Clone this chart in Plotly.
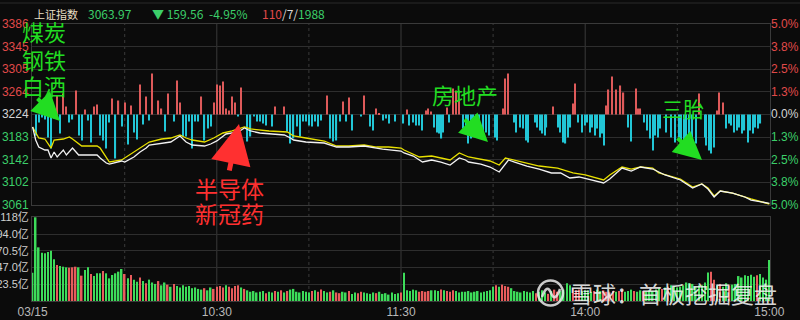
import plotly.graph_objects as go

# ---------------- data ----------------
prev_close = 3223.5
price_ticks = [3061, 3102, 3142, 3183, 3224, 3264, 3305, 3345, 3386]
pct_labels = ["5.0%", "3.8%", "2.5%", "1.3%", "0.0%", "1.3%", "2.5%", "3.8%", "5.0%"]
vol_ticks = [23.5, 47.0, 70.5, 94.0, 118]
vol_labels = ["23.5亿", "47.0亿", "70.5亿", "94.0亿", "118亿"]
time_ticks = [0, 60, 120, 180, 240]
time_labels = ["03/15", "10:30", "11:30", "14:00", "15:00"]
grid_solid = [60, 120, 180]
grid_dot = [30, 90, 150, 210]

white_min = [0, 1, 2, 4, 5, 6, 7, 8, 10, 11, 13, 15, 19, 21, 22, 24, 25, 29, 30, 33,
             35, 37, 38, 42, 45, 48, 50, 52, 56, 58, 60, 63, 67, 69, 71, 74, 77, 82, 84, 85,
             89, 95, 97, 99, 103, 108, 112, 114, 120, 121, 124, 127, 130, 133, 136, 139, 141, 142, 146, 149,
             152, 155, 157, 161, 165, 169, 172, 175, 178, 182, 186, 188, 192, 195, 198, 202, 204, 206, 211, 215,
             218, 220, 222, 224, 228, 232, 234, 237, 240]
white_price = [3201.1, 3177.7, 3165.1, 3159.8, 3159.8, 3145.4, 3156.2, 3147.2, 3159.8, 3150.8,
               3163.3, 3150.8, 3150.8, 3150.8, 3145.4, 3136.4, 3134.6, 3140.0, 3138.2, 3147.2,
               3156.2, 3163.3, 3168.7, 3172.3, 3174.1, 3184.9, 3174.1, 3168.7, 3166.9, 3170.5,
               3176.0, 3188.5, 3192.1, 3199.3, 3193.9, 3190.3, 3188.5, 3186.7, 3181.3, 3177.7,
               3174.1, 3172.3, 3168.7, 3165.1, 3165.1, 3166.9, 3163.3, 3161.5, 3157.9, 3154.4,
               3148.9, 3138.2, 3141.8, 3138.2, 3132.8, 3145.4, 3141.8, 3138.2, 3134.6, 3129.2,
               3120.3, 3141.8, 3138.2, 3131.0, 3125.6, 3118.5, 3118.5, 3109.5, 3111.3, 3105.9,
               3100.5, 3107.7, 3127.4, 3122.0, 3129.2, 3125.6, 3120.3, 3114.9, 3105.9, 3091.5,
               3098.7, 3089.7, 3075.4, 3086.1, 3082.5, 3075.4, 3069.9, 3066.4, 3064.0]

avg_min = [0, 1, 2, 4, 6, 7, 10, 12, 13, 16, 21, 22, 25, 29, 32, 35, 38, 42, 45, 48,
           50, 52, 56, 59, 62, 65, 67, 69, 71, 77, 83, 85, 89, 95, 99, 103, 108, 112, 116, 120,
           121, 126, 130, 136, 139, 142, 149, 152, 154, 160, 165, 171, 176, 180, 186, 188, 192, 195, 198, 202,
           204, 211, 215, 218, 220, 222, 224, 228, 234, 240]
avg_price = [3201.1, 3190.3, 3181.3, 3179.5, 3163.3, 3177.7, 3179.5, 3183.1, 3179.5, 3166.9,
             3166.9, 3163.3, 3138.2, 3141.8, 3152.6, 3163.3, 3174.1, 3179.5, 3181.3, 3186.7,
             3181.3, 3177.7, 3174.1, 3181.3, 3190.3, 3193.9, 3197.5, 3201.1, 3197.5, 3193.9,
             3192.1, 3184.9, 3181.3, 3175.9, 3166.9, 3166.9, 3168.7, 3165.1, 3165.1, 3163.3,
             3159.8, 3147.2, 3149.0, 3141.8, 3154.4, 3147.2, 3140.0, 3132.8, 3145.4, 3138.2,
             3131.0, 3127.4, 3118.5, 3114.9, 3105.9, 3114.9, 3129.2, 3125.6, 3129.2, 3127.4,
             3118.5, 3107.7, 3093.3, 3098.7, 3091.5, 3077.2, 3086.1, 3082.5, 3071.8, 3062.8]

hist_min = [1, 2, 3, 4, 5, 6, 7, 8, 9, 10, 11, 12, 13, 14, 15, 16, 17, 18, 19, 20,
            21, 22, 23, 24, 25, 26, 27, 28, 29, 30, 31, 32, 33, 34, 35, 36, 37, 38, 39, 41,
            42, 43, 44, 46, 47, 48, 49, 50, 51, 52, 53, 54, 55, 56, 57, 58, 59, 60, 61, 62,
            63, 64, 65, 66, 67, 68, 70, 71, 72, 73, 74, 75, 76, 78, 79, 82, 83, 84, 85, 86,
            87, 88, 89, 90, 91, 92, 93, 94, 96, 97, 98, 99, 100, 101, 102, 103, 104, 107, 108, 110,
            111, 112, 113, 114, 115, 116, 118,
            120.8, 121.9, 122.7, 123.8, 124.9, 126.0, 126.8, 128.1, 128.9, 129.8,
            130.8, 131.6, 132.4, 133.2, 133.8, 134.9, 135.7, 137.0, 137.9, 139.0,
            140.3, 141.1, 141.9, 142.8, 143.5, 144.4, 145.3, 146.8, 147.6, 148.7,
            150.6, 151.4, 153.1, 153.8, 154.9, 156.8, 157.6, 158.7, 159.8, 160.7,
            161.4, 163.6, 164.4, 165.2, 166.1, 166.8, 167.4, 169.5, 171.2, 171.9,
            172.8, 173.6, 174.4, 175.2, 176.0, 176.8, 177.7, 179.1, 179.8, 180.7,
            181.5, 182.3, 183.1, 183.8, 184.7, 185.6, 186.1, 186.9, 187.6, 188.7,
            190.1, 191.5, 192.5, 193.9, 194.8, 196.6, 197.2, 197.9, 199.3, 200.2,
            201.0, 202.0, 202.8, 203.7, 204.4, 206.4, 208.0, 209.4, 210.5, 211.3,
            212.1, 212.9, 214.0, 214.9, 216.2, 217.2, 218.9, 219.4, 220.2, 221.0,
            221.9, 222.9, 223.7, 224.8, 225.9, 226.8, 227.5, 228.6, 229.5, 230.2,
            231.1, 231.9, 232.9, 233.8, 234.6, 235.3, 236.2, 237.1]
hist_val = [-21, -8, -3, -5, -23, -34, -4, 19, -19, 21, 8, -8, -5, 24, -21, -26, 5, -6, -28, 8,
            10, -21, -26, -34, -8, 16, -44, 14, -12, 12, -30, 9, -18, -25, 30, -10, 18, -6, 41, 14,
            6, -17, 21, -7, 34, 12, -22, -22, -7, -34, -7, -7, 18, -26, -14, -12, 12, 30, 29, 33,
            6, 4, 18, 12, -2, 27, -27, -22, -2, -7, -7, -9, -11, -12, 8, 8, -17, -29, -24, -12,
            -22, -7, -7, -11, -12, -7, -12, -6, 19, -24, -27, -26, -7, 13, -7, 17, -16, -2, 19, -12,
            -16, 6, 1, -6, -4, -9, -7,
            -9, 5, -11, -8, -11, -11, -16, 4, 6, 3,
            -13, -18, -19, -24, -18, 7, -8, 26, 24, 24,
            -14, -16, -29, -24, -21, -14, -21, -24, -18, -21,
            -23, -26, 6, 36, 41, -8, -18, -13, -14, -26,
            -28, -8, -13, -16, -19, -21, -13, 8, -13, -18,
            -28, -29, -23, -13, 11, 31, -8, -18, -11, -8,
            -18, -13, -21, -14, -23, -19, -31, 9, 25, 38,
            25, 29, 22, -13, -27, 26, 6, 6, -8, -16,
            -24, -36, -21, -23, -14, -18, -23, -28, -23, -28,
            -31, -24, -28, -26, -29, 21, -23, -31, -36, -39,
            -33, 4, 22, 12, -14, -9, -11, -18, -16, -13,
            -19, -16, -28, -16, -19, -13, -14, -9]

vol = [39.8, 117.6, 75.4, 67.9, 67.0, 68.8, 70.7, 58.5, 50.6, 49.2,
       48.2, 47.3, 46.8, 47.3, 48.2, 47.3, 35.6, 43.6, 47.3, 37.9,
       35.1, 38.9, 38.9, 42.2, 38.9, 31.8, 36.5, 38.9, 41.2, 45.0,
       37.9, 31.8, 36.5, 30, 27, 33, 28, 25, 30, 26,
       24, 28, 22, 26, 23, 20, 24, 21, 19, 22,
       20, 21, 18, 19, 17, 16, 18, 15, 19, 17,
       20, 21, 19, 22, 20, 18, 21, 22, 19, 17,
       15, 13, 14, 12, 13, 14, 11, 13, 12, 14,
       13, 15, 12, 14, 16, 17, 13, 12, 14, 13,
       12, 14, 15, 13, 16, 14, 12, 13, 15, 12,
       11, 13, 12, 14, 10, 12, 11, 13, 12, 11,
       10, 12, 11, 13, 10, 11, 9, 12, 10, 11, 12,
       39.8, 15, 14, 16, 15, 13, 14, 13, 14, 15,
       15, 14, 16, 15, 14, 13, 15, 14, 12, 13,
       13, 14, 12, 13, 14, 12, 13, 14, 15, 20,
       22, 20, 23, 21, 20, 18, 14, 13, 12, 14,
       13, 12, 14, 11, 13, 15, 12, 10, 14, 16,
       13, 14, 16, 25, 22, 18, 15, 16, 14, 15,
       15, 13, 14, 16, 14, 15, 13, 12, 14, 13,
       14, 15, 13, 14, 16, 14, 13, 15, 14, 13,
       15, 14, 16, 18, 17, 19, 20, 22, 21, 19,
       20, 22, 26, 25, 24, 20, 22, 22, 26, 40,
       41, 30, 22, 24, 20, 25, 22, 23, 24, 35,
       33, 36, 35, 37, 34, 36, 38, 33, 30, 57.6]
vol_dir = ("ggggggggrg" "ggrrrgrggr" "gggrgggggg" "rgrggrgrgg" "grggrgrggg"
           "ggggggrggr" "rrrgrrrrgr" "ggggggrggr" "grgrgggggg" "grgrrggrgr"
           "rggrggrrgg" "ggrgggggggr"
           "gggggrrrrg" "ggrgrrrggg" "gggggggggg" "rgrrrggggg" "gggrgggrgr"
           "rggggrrrgg" "ggrggrrrrg" "rrgggrggrg" "ggggrgrggg" "gggggggggg"
           "rrgrggrggg" "gggggrgggg")
vol_min = list(range(len(vol)))

# ---------------- styling ----------------
BG = "#0b0b0b"
GRID = "#2e2e2e"
RED = "#e04a4a"
GREEN = "#3ccf6a"
WHITE_T = "#d4d4d4"
CYAN = "#22c6d6"
HRED = "#de5a5a"
VGREEN = "#3ddc5a"
VRED = "#e85c5c"
ANN_G = "#22dd22"
ANN_R = "#ff3030"
FONT = "Liberation Sans, Arial, Noto Sans CJK SC, sans-serif"
CJK = "Noto Sans CJK SC, sans-serif"

W, H = 800, 320
def px(x): return x / W
def py(y): return 1 - y / H

main_dom = [py(205), py(24)]
vol_dom = [py(301), py(217)]
x_dom = [px(32), px(770)]
x_range = [-0.2, 240.2]

def colored(t, v):
    c = RED if v > prev_close + 1 else (GREEN if v < prev_close - 1 else WHITE_T)
    return f'<span style="color:{c}">{t}</span>'

price_text = [colored(str(v), v) for v in price_ticks]
pct_text = [colored(t, v) for t, v in zip(pct_labels, price_ticks)]

fig = go.Figure()

fig.add_trace(go.Bar(
    x=hist_min, y=hist_val, width=0.38, xaxis="x", yaxis="y",
    marker=dict(color=[HRED if v > 0 else CYAN for v in hist_val], line=dict(width=0)),
    hoverinfo="skip", showlegend=False))

fig.add_trace(go.Scatter(x=avg_min, y=avg_price, mode="lines", xaxis="x", yaxis="y2",
                         line=dict(color="#e8e000", width=1.3), hoverinfo="skip", showlegend=False))
fig.add_trace(go.Scatter(x=white_min, y=white_price, mode="lines", xaxis="x", yaxis="y2",
                         line=dict(color="#f2f2f2", width=1.3), hoverinfo="skip", showlegend=False))
fig.add_trace(go.Scatter(x=[None], y=[None], xaxis="x", yaxis="y3", showlegend=False, hoverinfo="skip"))

fig.add_trace(go.Bar(
    x=vol_min, y=vol, width=0.5, xaxis="x2", yaxis="y4",
    marker=dict(color=[VRED if d == "r" else VGREEN for d in vol_dir], line=dict(width=0)),
    hoverinfo="skip", showlegend=False))

fig.update_layout(
    width=W, height=H, margin=dict(l=0, r=0, t=0, b=0, autoexpand=False),
    paper_bgcolor=BG, plot_bgcolor=BG, showlegend=False,
    font=dict(family=FONT, size=12, color=WHITE_T),
    barmode="overlay",
    xaxis=dict(domain=x_dom, range=x_range, anchor="y", showgrid=False, zeroline=False, automargin=False,
               showticklabels=False, showline=True, mirror=True, linecolor="#3a3a3a", linewidth=1),
    yaxis=dict(domain=main_dom, range=[-90.5, 90.5], visible=False, fixedrange=True, automargin=False),
    yaxis2=dict(overlaying="y", side="left", anchor="x", range=[price_ticks[0], price_ticks[-1]],
                tickvals=price_ticks, ticktext=price_text, tickfont=dict(size=12, family=FONT),
                showgrid=True, gridcolor=GRID, gridwidth=1, zeroline=False, automargin=False,
                showline=True, mirror=True, linecolor="#3a3a3a", linewidth=1, ticks="", ticklen=0),
    yaxis3=dict(overlaying="y", side="right", anchor="x", range=[price_ticks[0], price_ticks[-1]],
                tickvals=price_ticks, ticktext=pct_text, tickfont=dict(size=12, family=FONT),
                showgrid=False, zeroline=False, showline=False, ticks="", ticklen=0, automargin=False),
    xaxis2=dict(domain=x_dom, range=x_range, anchor="y4", matches="x", showgrid=False, zeroline=False,
                tickvals=time_ticks, ticktext=time_labels, tickfont=dict(size=12, color="#b8b8b8"),
                showline=True, mirror=True, linecolor="#3a3a3a", linewidth=1, ticks="", ticklen=0,
                automargin=False),
    yaxis4=dict(domain=vol_dom, range=[0, vol_ticks[-1]], anchor="x2", tickvals=vol_ticks,
                ticktext=vol_labels, tickfont=dict(size=11, color="#cfcfcf"),
                showgrid=True, gridcolor=GRID, zeroline=False, showline=True, mirror=True,
                linecolor="#3a3a3a", linewidth=1, ticks="", ticklen=0, automargin=False),
)

shapes = []
for m in grid_solid:
    shapes.append(dict(type="line", xref="x", yref="paper", x0=m, x1=m, y0=vol_dom[0], y1=main_dom[1],
                       line=dict(color="#3a3a3a", width=1), layer="below"))
for m in grid_dot:
    shapes.append(dict(type="line", xref="x", yref="paper", x0=m, x1=m, y0=vol_dom[0], y1=main_dom[1],
                       line=dict(color="#3a3a3a", width=1, dash="dot"), layer="below"))
shapes.append(dict(type="line", xref="paper", yref="paper", x0=0, x1=1, y0=py(3), y1=py(3),
                   line=dict(color="#2a2a2a", width=1)))
shapes.append(dict(type="circle", xref="paper", yref="paper", x0=px(538), x1=px(563), y0=py(305.5), y1=py(280.5),
                   line=dict(color="rgba(235,235,235,0.85)", width=2.5)))
shapes.append(dict(type="path", xref="paper", yref="paper",
                   path=f"M {px(542)},{py(297)} Q {px(547)},{py(283)} {px(551)},{py(293)} Q {px(555)},{py(303)} {px(560)},{py(289)}",
                   line=dict(color="rgba(235,235,235,0.85)", width=2.5)))
fig.update_layout(shapes=shapes)

ann = []
def head(text, x, color, size=12):
    return dict(text=text, xref="paper", yref="paper", x=px(x), y=py(14), xanchor="left", yanchor="middle",
                showarrow=False, borderpad=0, font=dict(size=size, color=color, family=CJK))

ann += [head("上证指数", 33, "#e8dfc4", 11),
        head("3063.97", 87, GREEN), head("▼ 159.56", 151, GREEN), head("-4.95%", 208, GREEN),
        head(f'<span style="color:{RED}">110</span><span style="color:#d8d8d8">/7/</span>'
             f'<span style="color:{GREEN}">1988</span>', 261, GREEN)]

def big(text, x, y, color, size=22):
    return dict(text=text, xref="paper", yref="paper", x=px(x), y=py(y), xanchor="center", yanchor="middle",
                showarrow=False, font=dict(size=size, color=color, family=CJK))

ann += [big("煤炭", 44, 31, ANN_G), big("钢铁", 44, 59, ANN_G), big("白酒", 44, 85, ANN_G),
        big("半导体", 230, 188, ANN_R, 23), big("新冠药", 230, 213, ANN_R, 23),
        big("房地产", 465, 94, ANN_G), big("三胎", 683, 108, ANN_G, 21)]

def arrow(tx, ty, sx, sy, color, w=4, s=1.4):
    return dict(text="", xref="paper", yref="paper", x=px(tx), y=py(ty), ax=sx - tx, ay=sy - ty,
                showarrow=True, arrowhead=2, arrowsize=s, arrowwidth=w, arrowcolor=color)

ann += [arrow(60, 121, 36, 97, ANN_G), arrow(239, 124, 229, 172, ANN_R, 5, 1.6),
        arrow(488, 142, 463, 118, ANN_G), arrow(702, 160, 676, 137, ANN_G)]

ann.append(dict(text="雪球：首板挖掘复盘", xref="paper", yref="paper", x=px(568), y=py(293),
                xanchor="left", yanchor="middle", showarrow=False,
                font=dict(size=23, color="rgba(240,240,240,0.9)", family=CJK)))
fig.update_layout(annotations=ann)

fig.write_html("out.html")
